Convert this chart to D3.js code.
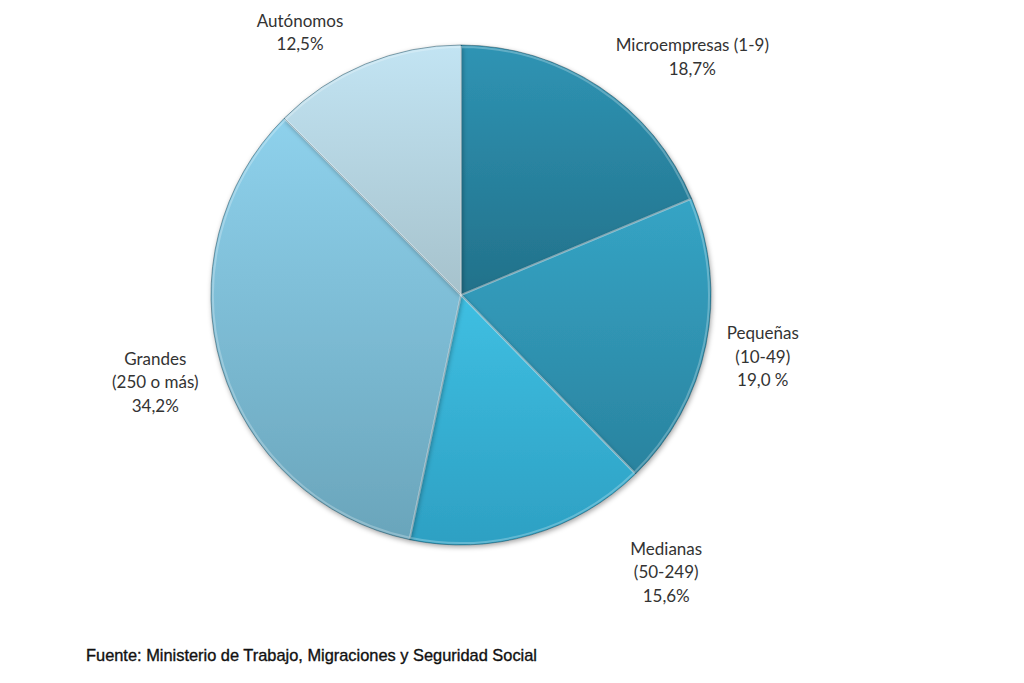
<!DOCTYPE html>
<html><head><meta charset="utf-8">
<script src="https://cdn.jsdelivr.net/npm/d3@7"></script>
<style>body{margin:0;background:#fff}svg{display:block}</style>
</head><body>
<svg id="c" width="1024" height="683"></svg>
<script>
const categories = ["Microempresas (1-9)", "Pequeñas (10-49)", "Medianas (50-249)", "Grandes (250 o más)", "Autónomos"];
const values = [18.7, 19.0, 15.6, 34.2, 12.5];
const valueLabels = ["18,7%", "19,0 %", "15,6%", "34,2%", "12,5%"];
const labelLines = [["Microempresas (1-9)"], ["Pequeñas", "(10-49)"], ["Medianas", "(50-249)"], ["Grandes", "(250 o más)"], ["Autónomos"]];
const topColors = ["#2f94b4", "#35a4c5", "#3fbfe2", "#8ed1ec", "#c2e4f3"];
const bottomColors = ["#22718a", "#2a839f", "#2da0c3", "#6aa5bb", "#a6c2cc"];

const svg = d3.select("#c");
const cx = 461, cy = 295, R = 250;
const defs = svg.append("defs");
topColors.forEach((c, i) => {
  const g = defs.append("linearGradient").attr("id", "g" + i)
    .attr("x1", 0).attr("y1", 0).attr("x2", 0).attr("y2", 1);
  g.append("stop").attr("offset", "0%").attr("stop-color", c);
  g.append("stop").attr("offset", "100%").attr("stop-color", bottomColors[i]);
});
const f = defs.append("filter").attr("id", "sh").attr("x", "-10%").attr("y", "-10%").attr("width", "120%").attr("height", "120%");
f.append("feDropShadow").attr("dx", 1).attr("dy", 2).attr("stdDeviation", 2.5).attr("flood-color", "#000").attr("flood-opacity", 0.35);

const pie = d3.pie().sort(null).value(d => d)(values);
const arc = d3.arc().innerRadius(0).outerRadius(R);
const g = svg.append("g").attr("transform", `translate(${cx},${cy})`);
g.selectAll("path.s").data(pie).join("path").attr("class", "s")
  .attr("d", arc).attr("fill", (d, i) => `url(#g${i})`)
  .attr("stroke", "rgba(20,60,75,0.45)").attr("stroke-width", 1)
  .attr("filter", "url(#sh)");
g.selectAll("path.h").data(pie).join("path").attr("class", "h")
  .attr("d", d3.arc().innerRadius(0).outerRadius(R - 2))
  .attr("fill", "none").attr("stroke", "rgba(255,255,255,0.25)").attr("stroke-width", 2);

const labelR = [332, 308, 345, 318, 308];
const angleShift = [10.5, 0, -20.3, 0.6, -9];
const lineH = 23.5;
pie.forEach((d, i) => {
  const a = ((d.startAngle + d.endAngle) / 2) + angleShift[i] * Math.PI / 180;
  const x = cx + labelR[i] * Math.sin(a);
  const y = cy - labelR[i] * Math.cos(a);
  const lines = labelLines[i].concat([valueLabels[i]]);
  const t = svg.append("text").attr("text-anchor", "middle")
    .attr("font-family", "Lato, 'Open Sans', sans-serif").attr("font-size", 17).attr("fill", "#333");
  const y0 = y - (lines.length - 1) * lineH / 2 + 6;
  lines.forEach((l, k) => t.append("tspan").attr("x", x).attr("y", y0 + k * lineH).text(l));
});

svg.append("text").attr("x", 86).attr("y", 661)
  .attr("font-family", "'Liberation Sans', Arial, sans-serif").attr("font-size", 16.4)
  .attr("fill", "#111").attr("stroke", "#111").attr("stroke-width", 0.35)
  .text("Fuente: Ministerio de Trabajo, Migraciones y Seguridad Social");
</script>
</body></html>
